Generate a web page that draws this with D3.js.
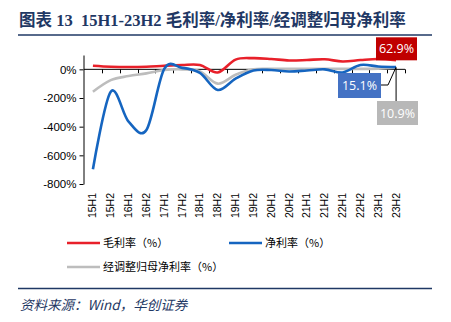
<!DOCTYPE html>
<html>
<head>
<meta charset="utf-8">
<script src="https://cdn.jsdelivr.net/npm/d3@7"></script>
<style>
  html, body { margin: 0; padding: 0; background: #fff; }
  svg { display: block; }
</style>
</head>
<body>
<svg id="chart" width="451" height="322"></svg>
<script>
// Half-year periods
const categories = ["15H1","15H2","16H1","16H2","17H1","17H2","18H1","18H2","19H1","19H2",
                    "20H1","20H2","21H1","21H2","22H1","22H2","23H1","23H2"];
// Margins in percent
const grossMargin = [25, 18, 16, 18, 25, 30, 30, -22, 68, 78, 72, 62, 65, 70, 55, 65, 72, 62.9];
const netMargin   = [-697, -156, -365, -423, 3, 10, -25, -144, -65, -8, -5, -15, -8, 0, -22, 30, 20, 15.1];
const adjMargin   = [-156, -75, -47, -28, -5, 0, -15, -100, -38, 0, 3, 3, 3, 3, 3, 3, 5, 10.9];
const yTicks = [0, -200, -400, -600, -800];
const seriesNames = ["毛利率（%）", "净利率（%）", "经调整归母净利率（%）"];

const svg = d3.select("#chart");
const cjk = "'Noto Sans CJK SC', 'Noto Sans', sans-serif";
const navy = "#1F3864";

// Title and rules
svg.append("text")
  .attr("x", 19).attr("y", 26)
  .attr("font-family", "'Liberation Serif', 'Noto Sans CJK SC', serif")
  .attr("font-weight", "bold")
  .attr("font-size", 16.5)
  .attr("fill", navy)
  .style("white-space", "pre")
  .text("图表 13  15H1-23H2 毛利率/净利率/经调整归母净利率");
svg.append("line").attr("x1", 18).attr("x2", 432).attr("y1", 35).attr("y2", 35)
  .attr("stroke", navy).attr("stroke-width", 1.5);

const x = d3.scaleBand().domain(categories).range([84, 405]);
const y = d3.scaleLinear().domain([-800, 100]).range([184, 55]);
const cx = d => x(d) + x.bandwidth() / 2;

// Y axis
const yAxis = svg.append("g").attr("transform", "translate(83.5,0)")
  .call(d3.axisLeft(y).tickValues(yTicks).tickSize(4).tickSizeOuter(0)
        .tickFormat(d => d + "%"));
yAxis.select(".domain").attr("stroke", "#000");
yAxis.selectAll(".tick line").attr("stroke", "#000");
yAxis.selectAll(".tick text").attr("font-family", "'Liberation Sans', Arial, sans-serif")
  .attr("font-size", 11.5).attr("fill", "#000").attr("x", -7);

// X axis along zero
const xAxis = svg.append("g").attr("transform", `translate(0,${y(0)})`);
xAxis.append("line").attr("x1", x.range()[0]).attr("x2", x.range()[1])
  .attr("stroke", "#000").attr("stroke-width", 1);
const bounds = categories.map(c => x(c)).concat([x.range()[1]]).slice(1);
xAxis.selectAll("line.tk").data(bounds).enter().append("line")
  .attr("class", "tk")
  .attr("x1", d => Math.round(d) + 0.5).attr("x2", d => Math.round(d) + 0.5)
  .attr("y1", 0).attr("y2", 4).attr("stroke", "#000");

// Rotated category labels
svg.append("g").selectAll("text").data(categories).enter().append("text")
  .attr("transform", d => `translate(${cx(d) + 3.5},193) rotate(-90)`)
  .attr("text-anchor", "end")
  .attr("font-family", "'Liberation Sans', Arial, sans-serif")
  .attr("font-size", 10.5)
  .attr("fill", "#000")
  .text(d => d);

// Smoothed series
const line = d3.line()
  .x((d, i) => cx(categories[i]))
  .y(d => y(d))
  .curve(d3.curveCardinal.tension(0));

const series = [
  { values: grossMargin, color: "#E8202A" },
  { values: adjMargin,   color: "#BDBDBD" },
  { values: netMargin,   color: "#1565C0" }
];
series.forEach(s => {
  svg.append("path").datum(s.values)
    .attr("d", line)
    .attr("fill", "none")
    .attr("stroke", s.color)
    .attr("stroke-width", 2.6)
    .attr("stroke-linejoin", "round");
});

// Value callouts for the last period
const last = categories.length - 1;
const lx = cx(categories[last]);
function callout(val, color, bx, by, bw, bh, leader) {
  if (leader) {
    svg.append("polyline")
      .attr("points", leader.map(p => p.join(",")).join(" "))
      .attr("fill", "none").attr("stroke", "#000").attr("stroke-width", 1);
  }
  svg.append("rect").attr("x", bx).attr("y", by).attr("width", bw).attr("height", bh)
    .attr("fill", color);
  svg.append("text")
    .attr("x", bx + bw / 2).attr("y", by + bh / 2 + 4.5)
    .attr("text-anchor", "middle")
    .attr("font-family", "'Open Sans', 'Noto Sans', sans-serif")
    .attr("font-size", 12.5)
    .attr("fill", "#fff")
    .text(val.toFixed(1) + "%");
}
const gv = grossMargin[last], nv = netMargin[last], av = adjMargin[last];
callout(gv, "#C00000", 376, y(gv) - 23, 41, 23, null);
callout(nv, "#4472C4", 338, 73, 43, 25, [[381, 85], [388, 85], [lx, y(nv)]]);
callout(av, "#B8B8B8", 377, 101, 41, 24, [[lx, 101], [lx, y(av)]]);

// Legend
const legend = [
  { name: seriesNames[0], color: "#E8202A", x: 67, y: 243 },
  { name: seriesNames[1], color: "#1565C0", x: 229, y: 243 },
  { name: seriesNames[2], color: "#BDBDBD", x: 67, y: 267 }
];
legend.forEach(l => {
  svg.append("line").attr("x1", l.x).attr("x2", l.x + 33).attr("y1", l.y).attr("y2", l.y)
    .attr("stroke", l.color).attr("stroke-width", 2.6);
  svg.append("text").attr("x", l.x + 36).attr("y", l.y + 4)
    .attr("font-family", cjk).attr("font-size", 11).attr("fill", "#000")
    .text(l.name);
});

// Footer
svg.append("line").attr("x1", 18).attr("x2", 432).attr("y1", 288.5).attr("y2", 288.5)
  .attr("stroke", navy).attr("stroke-width", 1.5);
svg.append("text").attr("x", 20).attr("y", 310)
  .attr("font-family", "'Noto Sans CJK SC', sans-serif")
  .attr("font-style", "italic")
  .attr("font-size", 13.5)
  .attr("fill", navy)
  .text("资料来源：Wind，华创证券");
</script>
</body>
</html>
